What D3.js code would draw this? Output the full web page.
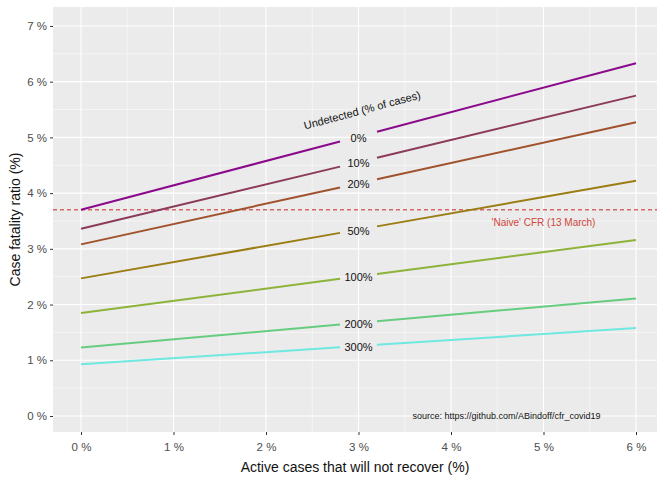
<!DOCTYPE html>
<html><head><meta charset="utf-8">
<script src="https://cdn.jsdelivr.net/npm/d3@7"></script>
<style>body{margin:0;background:#fff;font-family:"Liberation Sans",Arial,sans-serif}</style>
</head><body><div id="chart"></div>
<script>
// data
var undetected = ["0%", "10%", "20%", "50%", "100%", "200%", "300%"];
var cfrAt0 = [3.70, 3.36, 3.08, 2.47, 1.85, 1.23, 0.93];
var cfrAt6 = [6.33, 5.75, 5.27, 4.22, 3.16, 2.11, 1.58];
var colors = ["#8b0a8b", "#8b3a5a", "#a0522d", "#9b7d14", "#8db33a", "#66cd80", "#6ee8e0"];
var naiveCfr = 3.7;
var xTicks = [0, 1, 2, 3, 4, 5, 6];
var yTicks = [0, 1, 2, 3, 4, 5, 6, 7];

var svgWidth = 672, svgHeight = 480;
var margin = {top: 7, right: 15, bottom: 48, left: 53};
var width = svgWidth - margin.left - margin.right;
var height = svgHeight - margin.top - margin.bottom;

var svg = d3.select("#chart").append("svg")
  .attr("width", svgWidth).attr("height", svgHeight);
var g = svg.append("g").attr("transform", `translate(${margin.left}, ${margin.top})`);

var x = d3.scaleLinear().domain([-0.303, 6.227]).range([0, width]);
var y = d3.scaleLinear().domain([-0.287, 7.34]).range([height, 0]);

g.append("rect").attr("width", width).attr("height", height).attr("fill", "#ebebeb");

// grid
var minorX = d3.range(-0.5, 7, 1).filter(v => v > -0.3 && v < 6.3);
var minorY = d3.range(0.5, 7.3, 1);
g.selectAll(".mx").data(minorX).enter().append("line")
  .attr("x1", d => x(d)).attr("x2", d => x(d)).attr("y1", 0).attr("y2", height)
  .attr("stroke", "#fff").attr("stroke-width", 0.5);
g.selectAll(".my").data(minorY).enter().append("line")
  .attr("y1", d => y(d)).attr("y2", d => y(d)).attr("x1", 0).attr("x2", width)
  .attr("stroke", "#fff").attr("stroke-width", 0.5);
g.selectAll(".gx").data(xTicks).enter().append("line")
  .attr("x1", d => x(d)).attr("x2", d => x(d)).attr("y1", 0).attr("y2", height)
  .attr("stroke", "#fff").attr("stroke-width", 1.1);
g.selectAll(".gy").data(yTicks).enter().append("line")
  .attr("y1", d => y(d)).attr("y2", d => y(d)).attr("x1", 0).attr("x2", width)
  .attr("stroke", "#fff").attr("stroke-width", 1.1);

// axes
var xAxis = g.append("g").attr("transform", `translate(0, ${height})`)
  .call(d3.axisBottom(x).tickValues(xTicks).tickSize(3).tickFormat(d => d + " %"));
var yAxis = g.append("g")
  .call(d3.axisLeft(y).tickValues(yTicks).tickSize(3).tickFormat(d => d + " %"));
[xAxis, yAxis].forEach(a => {
  a.select(".domain").remove();
  a.selectAll("line").attr("stroke", "#333");
  a.selectAll("text").attr("fill", "#4d4d4d").attr("font-size", 11.5)
    .attr("font-family", "Liberation Sans, Arial, sans-serif");
});
xAxis.selectAll("text").attr("dy", "1.1em");

// naive CFR
g.append("line").attr("x1", 0).attr("x2", width)
  .attr("y1", y(naiveCfr)).attr("y2", y(naiveCfr))
  .attr("stroke", "#cc2222").attr("stroke-dasharray", "4,3").attr("stroke-width", 1);
g.append("text").attr("x", x(5)).attr("y", y(naiveCfr) + 16)
  .attr("text-anchor", "middle").attr("font-size", 10).attr("fill", "#d0453a")
  .text("'Naive' CFR (13 March)");

// lines with a gap for the label around x = 3
var gapL = 2.8, gapR = 3.2;
var val = (i, t) => cfrAt0[i] + (cfrAt6[i] - cfrAt0[i]) * t / 6;
undetected.forEach((lab, i) => {
  [[0, gapL], [gapR, 6]].forEach(seg => {
    g.append("line")
      .attr("x1", x(seg[0])).attr("y1", y(val(i, seg[0])))
      .attr("x2", x(seg[1])).attr("y2", y(val(i, seg[1])))
      .attr("stroke", colors[i]).attr("stroke-width", 2);
  });
  g.append("text").attr("x", x(3)).attr("y", y(val(i, 3)) + 5)
    .attr("text-anchor", "middle").attr("font-size", 11).attr("fill", "#111")
    .text(lab);
});

g.append("text")
  .attr("transform", `translate(${x(3.05)}, ${y(5.42)}) rotate(-15)`)
  .attr("text-anchor", "middle").attr("font-size", 11).attr("fill", "#111")
  .text("Undetected (% of cases)");

g.append("text").attr("x", x(4.6)).attr("y", y(0) + 3)
  .attr("text-anchor", "middle").attr("font-size", 9).attr("fill", "#111")
  .text("source: https://github.com/ABindoff/cfr_covid19");

// axis titles
svg.append("text").attr("x", margin.left + width / 2).attr("y", 472)
  .attr("text-anchor", "middle").attr("font-size", 14).attr("fill", "#111")
  .text("Active cases that will not recover (%)");
svg.append("text").attr("transform", `translate(20, ${margin.top + height / 2}) rotate(-90)`)
  .attr("text-anchor", "middle").attr("font-size", 14).attr("fill", "#111")
  .text("Case fatality ratio (%)");
</script></body></html>
